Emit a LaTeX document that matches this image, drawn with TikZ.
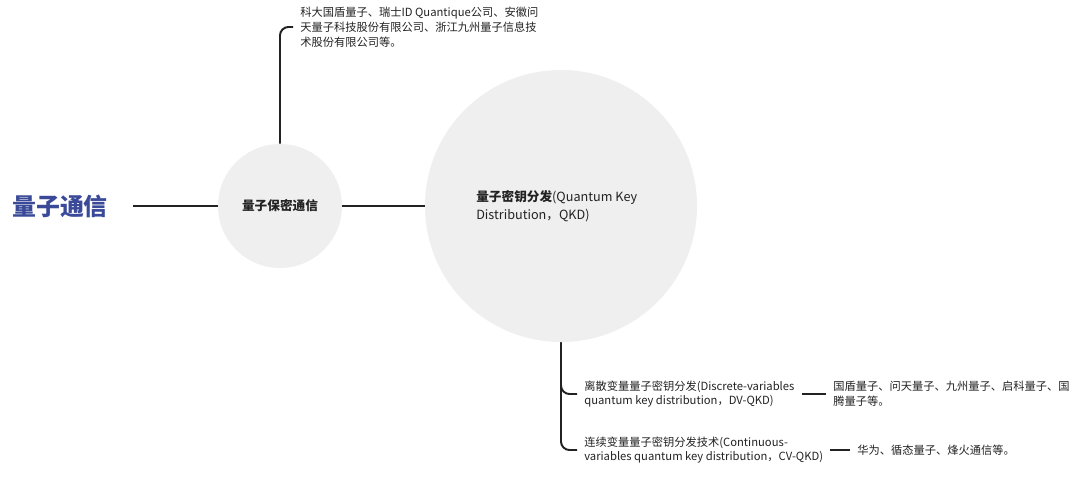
\documentclass[tikz,border=0pt]{standalone}
\usepackage{fontspec}
\setmainfont{Noto Sans CJK SC}
\definecolor{TitleBlue}{RGB}{58, 74, 152}
\definecolor{BubbleGray}{RGB}{239, 239, 239}
\definecolor{InkGray}{RGB}{34, 34, 34}
\usetikzlibrary{positioning}

\begin{document}
\begin{tikzpicture}[x=0.025cm, y=-0.025cm,
    bubble/.style={circle, fill=BubbleGray, inner sep=0pt},
    note/.style={align=left, anchor=west, inner xsep=5pt, inner ysep=0pt, text=InkGray, font=\fontsize{8}{10.5}\selectfont},
    link/.style={line width=1.4pt, InkGray}]
    \useasboundingbox (0,0) rectangle (1080,478);

    \node[anchor=west, inner sep=0pt, text=TitleBlue, font=\fontsize{17}{20}\selectfont\bfseries] (root) at (12,206) {量子通信};
    \node[bubble, minimum size=3.1cm, text=InkGray, font=\fontsize{9}{11}\selectfont\bfseries] (secure) at (280,206) {量子保密通信};
    \node[bubble, minimum size=6.8cm] (qkd) at (561,206) {};
    \node[note, inner xsep=0pt, font=\fontsize{9}{12.5}\selectfont] (qkdtext) at (476,206) {{\bfseries 量子密钥分发}(Quantum Key\\Distribution，QKD)};

    \node[note] (firms) at (293,27) {科大国盾量子、瑞士ID Quantique公司、安徽问\\天量子科技股份有限公司、浙江九州量子信息技\\术股份有限公司等。};
    \node[note] (dv) at (577,394) {离散变量量子密钥分发(Discrete-variables\\quantum key distribution，DV-QKD)};
    \node[note] (dvfirms) at (826,394) {国盾量子、问天量子、九州量子、启科量子、国\\腾量子等。};
    \node[note] (cv) at (577,450) {连续变量量子密钥分发技术(Continuous-\\variables quantum key distribution，CV-QKD)};
    \node[note] (cvfirms) at (850,450) {华为、循态量子、烽火通信等。};

    \draw[link] ([xshift=0.62cm]root.east) -- (secure.west);
    \draw[link] (secure.east) -- (qkd.west);
    \draw[link, rounded corners=6pt] (secure.north) |- (firms.west);
    \draw[link, rounded corners=6pt] (qkd.south) |- (dv.west);
    \draw[link, rounded corners=6pt] (qkd.south) |- (cv.west);
    \draw[link] (dv.east) -- (dvfirms.west);
    \draw[link] (cv.east) -- (cvfirms.west);
\end{tikzpicture}
\end{document}
